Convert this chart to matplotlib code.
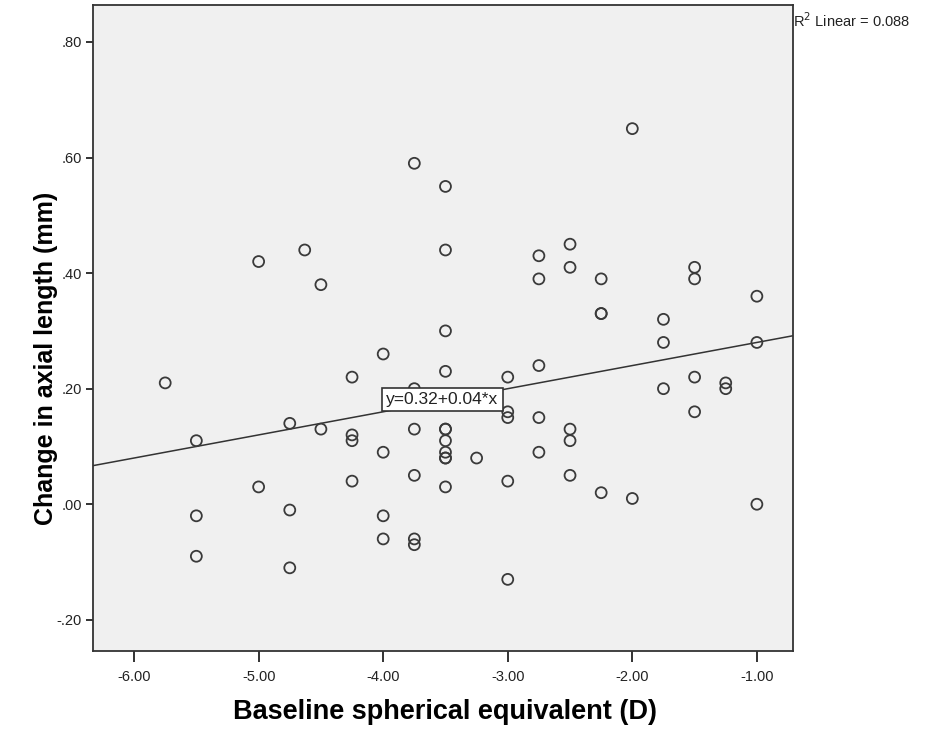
import numpy as np
import matplotlib.pyplot as plt

plt.rcParams['font.family'] = ['Liberation Sans', 'DejaVu Sans']

# baseline spherical equivalent (D) and change in axial length (mm)
se = [-5.75,
      -5.5, -5.5, -5.5,
      -5.0, -5.0,
      -4.75, -4.75, -4.75,
      -4.63,
      -4.5, -4.5,
      -4.25, -4.25, -4.25, -4.25,
      -4.0, -4.0, -4.0, -4.0,
      -3.75, -3.75, -3.75, -3.75, -3.75, -3.75,
      -3.5, -3.5, -3.5, -3.5, -3.5, -3.5, -3.5, -3.5, -3.5, -3.5, -3.5,
      -3.25,
      -3.0, -3.0, -3.0, -3.0, -3.0,
      -2.75, -2.75, -2.75, -2.75, -2.75,
      -2.5, -2.5, -2.5, -2.5, -2.5,
      -2.25, -2.25, -2.25, -2.25,
      -2.0, -2.0,
      -1.75, -1.75, -1.75,
      -1.5, -1.5, -1.5, -1.5,
      -1.25, -1.25,
      -1.0, -1.0, -1.0]
dal = [0.21,
       0.11, -0.02, -0.09,
       0.42, 0.03,
       0.14, -0.01, -0.11,
       0.44,
       0.38, 0.13,
       0.22, 0.12, 0.11, 0.04,
       0.26, 0.09, -0.02, -0.06,
       0.59, 0.20, 0.13, 0.05, -0.06, -0.07,
       0.55, 0.44, 0.30, 0.23, 0.13, 0.13, 0.11, 0.09, 0.08, 0.08, 0.03,
       0.08,
       0.22, 0.16, 0.15, 0.04, -0.13,
       0.43, 0.39, 0.24, 0.15, 0.09,
       0.45, 0.41, 0.13, 0.11, 0.05,
       0.39, 0.33, 0.33, 0.02,
       0.65, 0.01,
       0.32, 0.28, 0.20,
       0.41, 0.39, 0.22, 0.16,
       0.21, 0.20,
       0.36, 0.28, 0.00]

intercept, slope = 0.32, 0.04
r2 = 0.088
xticks = [-6.0, -5.0, -4.0, -3.0, -2.0, -1.0]
yticks = [0.8, 0.6, 0.4, 0.2, 0.0, -0.2]

fig = plt.figure(figsize=(9.25, 7.31), dpi=100)
ax = fig.add_axes([0.1005, 0.1094, 0.7568, 0.8838])
ax.set_facecolor('#f0f0f0')

xlim = (-6.33, -0.71)
ylim = (-0.254, 0.864)
ax.set_xlim(*xlim)
ax.set_ylim(*ylim)

# fit line
t = np.array(xlim)
ax.plot(t, intercept + slope * t, color='#333333', linewidth=1.1, zorder=2)

ax.scatter(se, dal, s=62, facecolors='none', edgecolors='#3a3a3a',
           linewidths=1.3, zorder=3)

ax.text(-3.524, 0.181, 'y=%.2f+%.2f*x' % (intercept, slope), ha='center', va='center',
        fontsize=12.5, color='#222222', zorder=5,
        bbox=dict(boxstyle='square,pad=0.25', facecolor='white',
                  edgecolor='#333333', linewidth=1.2))

fig.text(0.857, 0.972, r'R$^2$ Linear = %.3f' % r2, fontsize=10.5, color='#222222',
         ha='left', va='center')

ax.set_xticks(xticks)
ax.set_xticklabels(['%.2f' % v for v in xticks])
ax.set_yticks(yticks)
ax.set_yticklabels([('%.2f' % v).replace('0.', '.') for v in yticks])
ax.tick_params(axis='both', direction='out', labelsize=10.5, colors='#222222',
               width=1.3)
ax.tick_params(axis='x', length=8, pad=6)
ax.tick_params(axis='y', length=5, pad=3)
for sp in ax.spines.values():
    sp.set_color('#333333')
    sp.set_linewidth(1.3)

ax.set_xlabel('Baseline spherical equivalent (D)', fontsize=19.5, fontweight='bold')
ax.set_ylabel('Change in axial length (mm)', fontsize=18, fontweight='bold')
ax.xaxis.set_label_coords(0.503, -0.074)
ax.yaxis.set_label_coords(-0.05, 0.453)

fig.savefig('out.png', dpi=100)
